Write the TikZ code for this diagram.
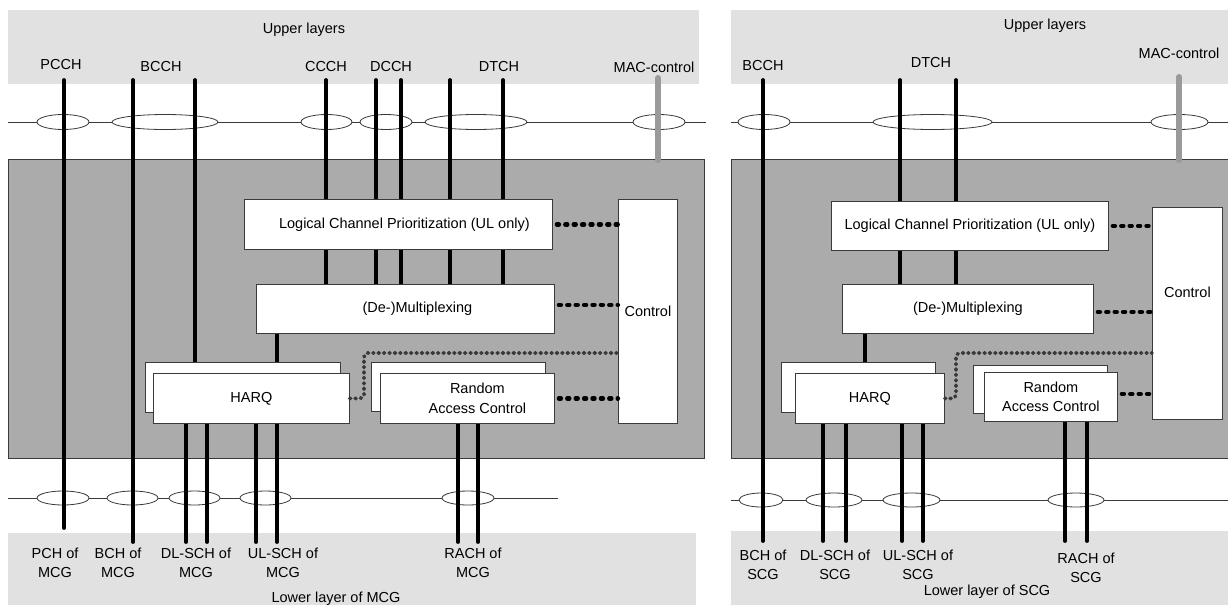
\documentclass[tikz,border=0pt]{standalone}
\usepackage{fontspec}
\setmainfont{Liberation Sans}
\usetikzlibrary{positioning,calc,shapes.geometric}
\definecolor{Band}{HTML}{E1E1E1}
\definecolor{MacFill}{HTML}{ABABAB}
\definecolor{Edge}{HTML}{3A3A3A}
\definecolor{CtrlLine}{HTML}{9A9A9A}
\definecolor{HarqDot}{HTML}{383838}
\newcommand{\labfont}{\fontsize{14.5}{19.5}\selectfont}
\pgfdeclarelayer{back}
\pgfdeclarelayer{mid}
\pgfsetlayers{back,mid,main}
\tikzset{
  band/.style={fill=Band, draw=none},
  macent/.style={fill=MacFill, draw=Edge, line width=0.8pt},
  thinbus/.style={draw=Edge, line width=0.8pt},
  mapping/.style={ellipse, draw=Edge, fill=white, line width=0.8pt, inner sep=0pt, minimum height=15pt},
  block/.style={draw=Edge, fill=white, line width=0.8pt, anchor=north west, inner sep=0pt, align=center, font=\labfont},
  lbl/.style={inner sep=0pt, align=center, font=\labfont},
  chan/.style={line width=3.8pt, line cap=round},
  macline/.style={line width=6pt, line cap=round, draw=CtrlLine},
  ctrldot/.style={line width=4.2pt, dash pattern=on 2.2pt off 6.2pt, line cap=round},
  harqdot/.style={line width=3.8pt, dash pattern=on 0.8pt off 4.6pt, line cap=round, draw=HarqDot, rounded corners=4pt}
}

\begin{document}
\begin{tikzpicture}[x=1pt,y=-1pt]
\useasboundingbox (0,0) rectangle (1228,605);
\clip (0,0) rectangle (1228,605);
\coordinate (lowL) at (0,542);
\coordinate (lowR) at (0,541);

\begin{pgfonlayer}{back}
\fill[band] (8,10) rectangle (699,84);
\fill[band] (8,533) rectangle (696,605);
\fill[band] (731,10) rectangle (1240,84);
\fill[band] (731,531) rectangle (1240,605);
\draw[macent] (8,159) rectangle (704,458);
\draw[macent] (731,159) rectangle (1240,458);
\draw[thinbus] (8,122) -- (706,122);
\draw[thinbus] (8,498) -- (558,498);
\draw[thinbus] (731,122) -- (1240,122);
\draw[thinbus] (731,500) -- (1240,500);
\foreach \n/\x/\w in {pcch/63/52, bcch/165/106, ccch/326.5/51, dcch/386/52, dtch/476/102, mac/659/52}
  \node[mapping, minimum width=\w pt] (uL\n) at (\x,122) {};
\foreach \n/\x/\w in {pch/63/52, bch/132.5/51, dlsch/194.5/51, ulsch/265.5/51, rach/468/52}
  \node[mapping, minimum width=\w pt, minimum height=14pt] (dL\n) at (\x,498) {};
\foreach \n/\x/\w in {bcch/764/52, dtch/932.5/119, mac/1179.5/57}
  \node[mapping, minimum width=\w pt] (uR\n) at (\x,122) {};
\foreach \n/\x/\w in {bch/761/44, dlsch/834/56, ulsch/911.5/57, rach/1076/56}
  \node[mapping, minimum width=\w pt, minimum height=14pt] (dR\n) at (\x,500) {};
\end{pgfonlayer}

\node[lbl] (upL) at (304,30) {Upper layers};
\node[lbl] (pcch) at (61,65) {PCCH};
\node[lbl] (bcch) at (161,67) {BCCH};
\node[lbl] (ccch) at (326,67) {CCCH};
\node[lbl] (dcch) at (391,67) {DCCH};
\node[lbl] (dtch) at (499,67) {DTCH};
\node[lbl] (macL) at (654,67) {MAC-control};

\node[block, minimum width=308pt, minimum height=50pt] (lcpL) at (244,199) {\hspace*{12pt}Logical Channel Prioritization (UL only)};
\node[block, minimum width=298pt, minimum height=49pt] (muxL) at (256,284) {\hspace*{24pt}(De-)Multiplexing};
\node[block, minimum width=195pt, minimum height=50pt] (harqbL) at (145,362) {};
\node[block, minimum width=196pt, minimum height=50pt] (harqL) at (153,373) {HARQ};
\node[block, minimum width=174pt, minimum height=49pt] (racbL) at (371,362) {};
\node[block, minimum width=174pt, minimum height=50pt] (racL) at (380,373) {\hspace*{20pt}Random\\\hspace*{20pt}Access Control};
\node[block, minimum width=59pt, minimum height=224pt] (ctrlL) at (618,199) {Control};

\node[lbl] (pchL) at (55,563) {PCH of\\MCG};
\node[lbl] (bchL) at (118,563) {BCH of\\MCG};
\node[lbl] (dlschL) at (196,563) {DL-SCH of\\MCG};
\node[lbl] (ulschL) at (283,563) {UL-SCH of\\MCG};
\node[lbl] (rachL) at (473,563) {RACH of\\MCG};
\node[lbl] (lowtxtL) at (336,599) {Lower layer of MCG};

\node[lbl] (upR) at (1045,26) {Upper layers};
\node[lbl] (bcchR) at (763,66) {BCCH};
\node[lbl] (dtchR) at (931,63) {DTCH};
\node[lbl] (macR) at (1179,53) {MAC-control};

\node[block, minimum width=277pt, minimum height=49pt] (lcpR) at (831,201) {Logical Channel Prioritization (UL only)};
\node[block, minimum width=251pt, minimum height=49pt] (muxR) at (842,284) {(De-)Multiplexing};
\node[block, minimum width=154pt, minimum height=50pt] (harqbR) at (781,362) {};
\node[block, minimum width=149pt, minimum height=50pt] (harqR) at (795,373) {HARQ};
\node[block, minimum width=134pt, minimum height=48pt] (racbR) at (973,365) {};
\node[block, minimum width=133pt, minimum height=49pt] (racR) at (984,372) {Random\\Access Control};
\node[block, minimum width=70pt, minimum height=212pt] (ctrlR) at (1152,207) {Control\\[22pt]};

\node[lbl] (bchR) at (763,565) {BCH of\\SCG};
\node[lbl] (dlschR) at (835,565) {DL-SCH of\\SCG};
\node[lbl] (ulschR) at (918,565) {UL-SCH of\\SCG};
\node[lbl] (rachR) at (1086,568) {RACH of\\SCG};
\node[lbl] (lowtxtR) at (987,592) {Lower layer of SCG};

\foreach \n/\x in {pcch/64, bcchA/133, bcchB/195, ccch/326, dcchA/376, dcchB/401, dtchA/450, dtchB/503}
  \coordinate (T\n) at (\x,80);
\foreach \n/\x in {bcch/763, dtchA/900, dtchB/956}
  \coordinate (R\n) at (\x,80);
\coordinate (TmacL) at (658,78);
\coordinate (TmacR) at (1179,77);

\begin{pgfonlayer}{mid}
\draw[chan] (Tpcch) -- (Tpcch |- 0,528);
\draw[chan] (TbcchA) -- (TbcchA |- lowL);
\draw[chan] (TbcchB) -- (TbcchB |- harqbL.north);
\foreach \n in {ccch,dcchA,dcchB,dtchA,dtchB}
  \draw[chan] (T\n) -- (T\n |- muxL.north);
\draw[chan] (277,0 |- muxL.south) -- (277,0 |- harqbL.north);
\foreach \x in {186,207,256,277}
  \draw[chan] (\x,0 |- harqL.south) -- (\x,0 |- lowL);
\foreach \x in {458,478}
  \draw[chan] (\x,0 |- racL.south) -- (\x,0 |- lowL);
\draw[macline] (TmacL) -- (TmacL |- 0,160);

\draw[chan] (Rbcch) -- (Rbcch |- lowR);
\foreach \n in {dtchA,dtchB}
  \draw[chan] (R\n) -- (R\n |- muxR.north);
\draw[chan] (865,0 |- muxR.south) -- (865,0 |- harqbR.north);
\foreach \x in {823,846,902,923}
  \draw[chan] (\x,0 |- harqR.south) -- (\x,0 |- lowR);
\foreach \x in {1065,1087}
  \draw[chan] (\x,0 |- racR.south) -- (\x,0 |- lowR);
\draw[macline] (TmacR) -- (TmacR |- 0,160);
\end{pgfonlayer}

\draw[ctrldot] ($(lcpL.east)+(4,0)$) -- (lcpL.east -| ctrlL.west);
\draw[ctrldot] ($(muxL.east)+(4,-4)$) -- ($(muxL.east -| ctrlL.west)+(0,-4)$);
\draw[ctrldot] ($(racL.east)+(4,0)$) -- (racL.east -| ctrlL.west);
\coordinate (hqL) at (364,353);
\draw[harqdot] (harqL.east) -| (hqL) -- (hqL -| ctrlL.west);

\draw[ctrldot] ($(lcpR.east)+(4,0)$) -- (lcpR.east -| ctrlR.west);
\draw[ctrldot] ($(muxR.east)+(4,3)$) -- ($(muxR.east -| ctrlR.west)+(0,3)$);
\draw[ctrldot] ($(racR.east)+(4,-3)$) -- ($(racR.east -| ctrlR.west)+(0,-3)$);
\coordinate (hqR) at (956,353);
\draw[harqdot] (harqR.east) -| (hqR) -- (hqR -| ctrlR.west);
\end{tikzpicture}
\end{document}
